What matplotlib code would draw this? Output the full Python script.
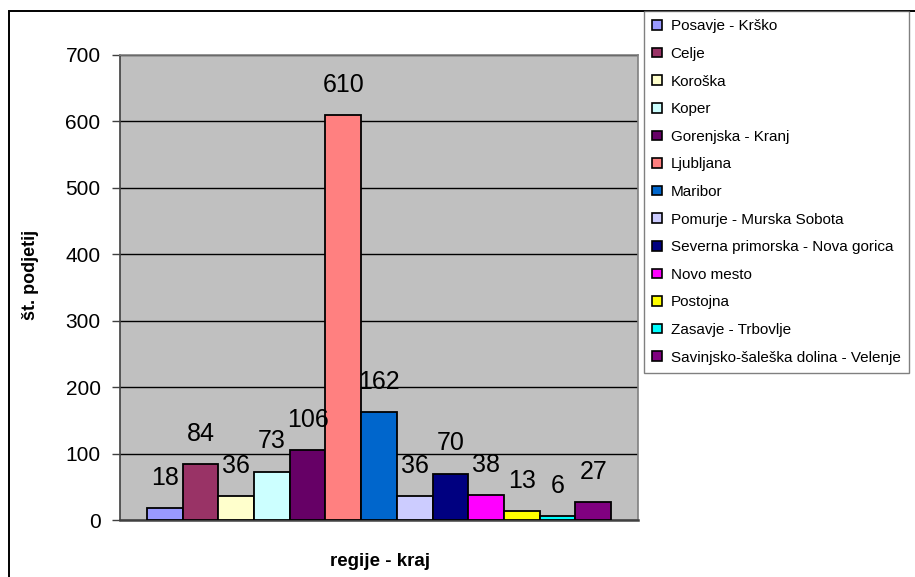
import matplotlib.pyplot as plt
from matplotlib.patches import Patch, Rectangle
import numpy as np

regions = ['Posavje - Krško', 'Celje', 'Koroška', 'Koper', 'Gorenjska - Kranj',
           'Ljubljana', 'Maribor', 'Pomurje - Murska Sobota',
           'Severna primorska - Nova gorica', 'Novo mesto', 'Postojna',
           'Zasavje - Trbovlje', 'Savinjsko-šaleška dolina - Velenje']
companies = [18, 84, 36, 73, 106, 610, 162, 36, 70, 38, 13, 6, 27]
colors = ['#9999FF', '#993366', '#FFFFCC', '#CCFFFF', '#660066', '#FF8080',
          '#0066CC', '#CCCCFF', '#000080', '#FF00FF', '#FFFF00', '#00FFFF',
          '#800080']
y_ticks = [0, 100, 200, 300, 400, 500, 600, 700]

plt.rcParams['font.family'] = ['Liberation Sans', 'DejaVu Sans']

W, H = 915, 577
fig = plt.figure(figsize=(W / 100, H / 100), dpi=100)

# chart frame (runs off the right and bottom edges)
fig.patches.append(Rectangle((9 / W, -0.1), 1.2, 1 - 11 / H + 0.1,
                             transform=fig.transFigure, fill=False,
                             edgecolor='black', linewidth=1.4, zorder=0))

ax = fig.add_axes([120 / W, 1 - 520 / H, 518 / W, 465 / H])
ax.set_facecolor('#C0C0C0')

# one bar per region, excel-like gap of 150% split on both sides
gap = 0.75
x = np.arange(len(companies)) + gap + 0.5
ax.bar(x, companies, width=1.0, color=colors, edgecolor='black',
       linewidth=1.3, zorder=3)
ax.set_xlim(0, len(companies) + 2 * gap)
ax.set_ylim(0, 700)

for xi, v in zip(x, companies):
    ax.annotate(str(v), (xi, v), xytext=(0, 13), textcoords='offset points',
                ha='center', va='bottom', fontsize=18, zorder=4)

ax.set_yticks(y_ticks)
ax.yaxis.grid(True, color='black', linewidth=1.0, zorder=1)
ax.set_axisbelow(True)
ax.tick_params(axis='y', direction='out', length=6, width=1, color='#404040',
               labelsize=15, pad=8)
ax.set_xticks([])

for side in ['top', 'right']:
    ax.spines[side].set_color('#808080')
    ax.spines[side].set_linewidth(1.2)
ax.spines['left'].set_color('#404040')
ax.spines['bottom'].set_color('#404040')
ax.spines['left'].set_linewidth(1.2)
ax.spines['bottom'].set_linewidth(1.8)

ax.set_ylabel('št. podjetij', fontsize=13, fontweight='bold')
ax.yaxis.set_label_coords(-0.157, 0.527)
fig.text(380 / W, 1 - 561 / H, 'regije - kraj', fontsize=13.5,
         fontweight='bold', ha='center', va='center')

handles = [Patch(facecolor=c, edgecolor='black', linewidth=1.2) for c in colors]
leg = fig.legend(handles, regions, loc='upper left',
                 bbox_to_anchor=(644 / W, 1 - 11 / H), fontsize=11,
                 frameon=True, fancybox=False, handlelength=0.6,
                 handleheight=0.6, handletextpad=0.6, labelspacing=0.89,
                 borderpad=0.55, borderaxespad=0)
leg.get_frame().set_edgecolor('#606060')
leg.get_frame().set_linewidth(1.0)

fig.savefig('out.png', dpi=100)
